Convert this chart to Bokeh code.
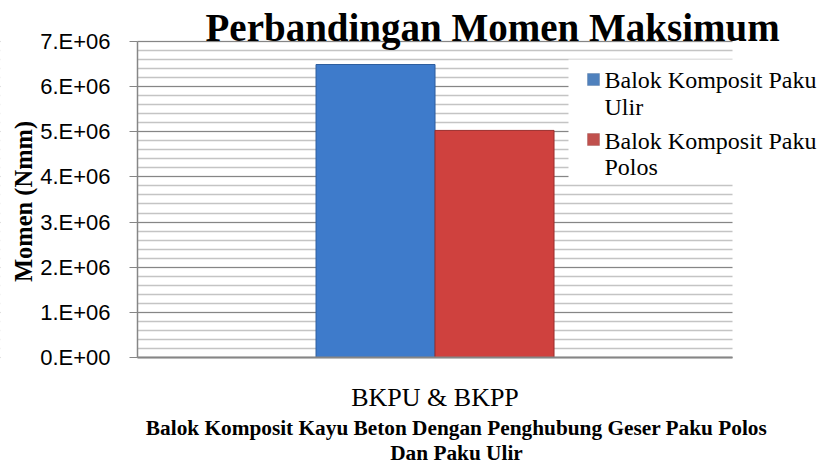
import math
from bokeh.plotting import figure
from bokeh.models import Range1d, FixedTicker, Label, ColumnDataSource, BoxAnnotation
from bokeh.transform import dodge
from bokeh.embed import file_html
from bokeh.resources import INLINE

# ---- data ----
categories = ["BKPU & BKPP"]
series_names = ["Balok Komposit Paku Ulir", "Balok Komposit Paku Polos"]
series_label_lines = [["Balok Komposit Paku", "Ulir"], ["Balok Komposit Paku", "Polos"]]
ulir_values = [6.49e6]
polos_values = [5.03e6]
y_ticks = [0, 1000000, 2000000, 3000000, 4000000, 5000000, 6000000, 7000000]
y_tick_labels = ["0.E+00", "1.E+06", "2.E+06", "3.E+06", "4.E+06", "5.E+06", "6.E+06", "7.E+06"]
y_minor_ticks = [i * 200000 for i in range(36)]
title_text = "Perbandingan Momen Maksimum"
y_label = "Momen (Nmm)"
x_label_lines = ["Balok Komposit Kayu Beton Dengan Penghubung Geser Paku Polos", "Dan Paku Ulir"]

bar_fill = ["#3E7BCB", "#CF413E"]
bar_line = ["#2E5E9E", "#9A2E2C"]
swatch_fill = ["#4F81BD", "#C0504D"]
swatch_line = ["#385D8A", "#8C3836"]

cat_pos = list(range(len(categories)))
source = ColumnDataSource(data=dict(pos=cat_pos, ulir=ulir_values, polos=polos_values))

# the frame fills the whole canvas; axes are pinned inside it
p = figure(width=819, height=465, x_range=Range1d(-0.7303, 0.6462),
           y_range=Range1d(-2.393e6, 7.908e6), output_backend="svg", toolbar_location=None,
           min_border_left=0, min_border_right=0, min_border_top=0, min_border_bottom=0)
p.outline_line_color = None
p.background_fill_color = "white"

# grid
p.xgrid.grid_line_color = None
p.ygrid.grid_line_color = "#868686"
p.ygrid.grid_line_width = 1.2
p.ygrid.minor_grid_line_color = "#C4C4C4"
p.ygrid.minor_grid_line_width = 1.5

# white masks so the grid only spans the category band
p.add_layout(BoxAnnotation(right=-0.5, fill_color="white", fill_alpha=1, line_color=None, level="underlay"))
p.add_layout(BoxAnnotation(left=0.5, fill_color="white", fill_alpha=1, line_color=None, level="underlay"))
# legend background (also hides the grid behind the legend)
p.add_layout(BoxAnnotation(left=568, right=819, top=406, bottom=282,
                           left_units="screen", right_units="screen", top_units="screen", bottom_units="screen",
                           fill_color="white", fill_alpha=1, line_color=None, level="underlay"))

r1 = p.vbar(x=dodge("pos", -0.1), top="ulir", width=0.2, source=source,
            fill_color=bar_fill[0], line_color=bar_line[0], line_width=1)
r2 = p.vbar(x=dodge("pos", 0.1), top="polos", width=0.2, source=source,
            fill_color=bar_fill[1], line_color=bar_line[1], line_width=1)

# y axis
p.yaxis.fixed_location = -0.5
p.yaxis.bounds = (y_ticks[0], y_ticks[-1])
p.yaxis.ticker = FixedTicker(ticks=y_ticks, minor_ticks=y_minor_ticks)
p.yaxis.major_label_overrides = dict(zip(y_ticks, y_tick_labels))
p.yaxis.major_label_text_font = "Liberation Sans"
p.yaxis.major_label_text_font_size = "22px"
p.yaxis.major_label_text_color = "black"
p.yaxis.major_label_standoff = 19
p.yaxis.major_tick_out = 8
p.yaxis.major_tick_in = 0
p.yaxis.major_tick_line_color = "#868686"
p.yaxis.minor_tick_line_color = None
p.yaxis.axis_line_color = "#868686"
p.yaxis.axis_line_width = 1.5

# x axis
p.xaxis.fixed_location = 0
p.xaxis.bounds = (-0.5, 0.5)
p.xaxis.ticker = FixedTicker(ticks=[], minor_ticks=[])
p.xaxis.major_tick_line_color = None
p.xaxis.minor_tick_line_color = None
p.xaxis.axis_line_color = "#868686"
p.xaxis.axis_line_width = 2

serif = "Liberation Serif"

# legend texts
line_bottoms = [[372.5, 345.5], [312, 285.5]]
for i, lines in enumerate(series_label_lines):
    for j, line in enumerate(lines):
        p.add_layout(Label(x=604, y=line_bottoms[i][j], x_units="screen", y_units="screen", text=line,
                           text_align="left", text_font=serif, text_font_size="24px",
                           text_color="black"))

for i, cat in enumerate(categories):
    p.add_layout(Label(x=cat_pos[i], y=54, y_units="screen", text=cat, text_align="center",
                       text_font=serif, text_font_size="26px", text_color="black"))

p.add_layout(Label(x=205, y=417, x_units="screen", y_units="screen", text=title_text,
                   text_font=serif, text_font_style="bold", text_font_size="39px", text_color="black"))
p.add_layout(Label(x=23, y=264, x_units="screen", y_units="screen", text=y_label, angle=math.pi / 2,
                   text_align="center", text_baseline="middle",
                   text_font=serif, text_font_style="bold", text_font_size="24.5px", text_color="black"))
p.add_layout(Label(x=456, y=26, x_units="screen", y_units="screen", text=x_label_lines[0], text_align="center",
                   text_font=serif, text_font_style="bold", text_font_size="21.3px", text_color="black"))
p.add_layout(Label(x=456, y=1, x_units="screen", y_units="screen", text=x_label_lines[1], text_align="center",
                   text_font=serif, text_font_style="bold", text_font_size="21.3px", text_color="black"))

# legend swatches
swatch_tops = [392, 332]
for i in range(len(series_names)):
    p.add_layout(BoxAnnotation(left=587, right=599, top=swatch_tops[i], bottom=swatch_tops[i] - 12,
                               left_units="screen", right_units="screen", top_units="screen", bottom_units="screen",
                               fill_color=swatch_fill[i], fill_alpha=1, line_color=swatch_line[i], line_width=1))

open("out.html", "w").write(file_html(p, INLINE))
